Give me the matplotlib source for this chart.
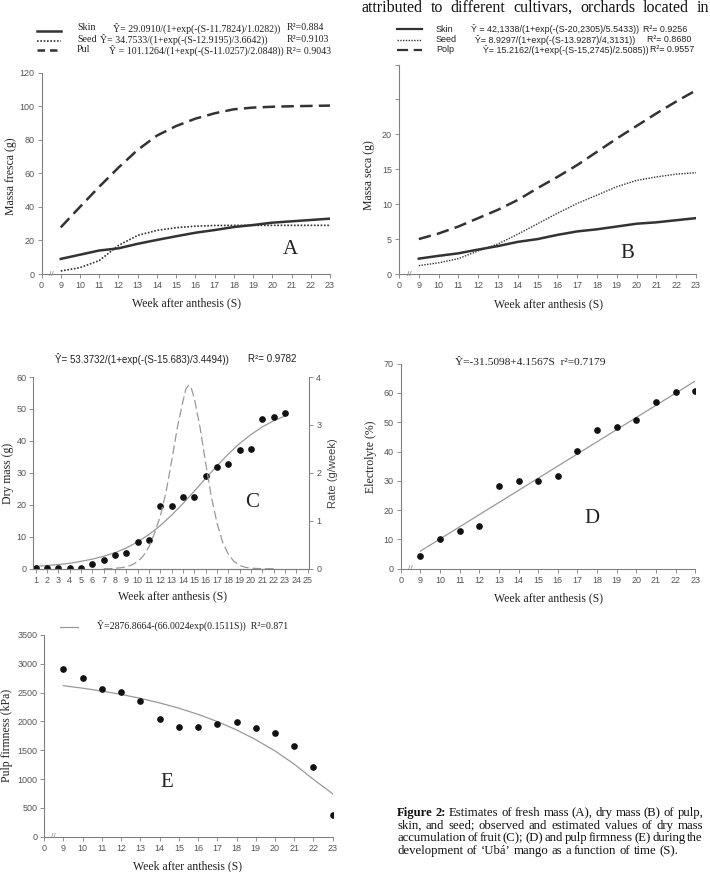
import numpy as np
import matplotlib.pyplot as plt
from matplotlib.lines import Line2D
import matplotlib.transforms as mtransforms

SERIF = ['Liberation Serif', 'DejaVu Serif']
SANS = ['Liberation Sans', 'DejaVu Sans']

# ---- data ----
weeks = np.arange(9, 24)
week_ticks = np.arange(8, 24)
week_labels = ['0'] + [str(w) for w in range(9, 24)]

# A: fresh mass (g)
a_skin = [9.0, 11.5, 14.0, 15.3, 18.0, 20.3, 22.5, 24.6, 26.2, 28.0, 29.2, 30.6, 31.4, 32.2, 33.0]
a_seed = [1.8, 3.8, 8.0, 17.0, 23.0, 26.0, 27.6, 28.5, 28.9, 29.0, 29.0, 29.0, 29.0, 29.0, 29.0]
a_pul = [27.8, 40.0, 52.0, 63.4, 74.0, 82.5, 88.2, 92.6, 95.8, 98.2, 99.2, 99.7, 100.0, 100.2, 100.4]

# B: dry mass (g)
b_skin = [2.2, 2.6, 2.96, 3.5, 4.0, 4.6, 5.0, 5.6, 6.1, 6.4, 6.8, 7.2, 7.4, 7.7, 8.0]
b_seed = [1.2, 1.6, 2.2, 3.3, 4.3, 5.7, 7.2, 8.7, 10.1, 11.3, 12.5, 13.4, 13.9, 14.3, 14.5]
b_polp = [5.0, 5.8, 6.8, 8.0, 9.2, 10.6, 12.3, 13.9, 15.6, 17.5, 19.4, 21.2, 23.0, 24.7, 26.3]

# C: dry mass accumulation of fruit
c_weeks = np.arange(1, 24)
c_obs = [0.1, 0.1, 0.1, 0.2, 0.3, 1.4, 2.6, 4.3, 4.8, 8.5, 9.0, 19.6, 19.6, 22.4, 22.4,
         29.0, 31.9, 32.7, 37.0, 37.6, 46.9, 47.6, 48.6]
c_fit = [0.75, 1.0, 1.3, 1.7, 2.3, 3.0, 3.9, 5.0, 6.5, 8.4, 10.7, 13.5, 16.8, 20.4, 24.3,
         28.3, 32.2, 35.9, 39.2, 42.0, 44.4, 46.3, 47.8]
c_rate_weeks = [7, 7.5, 8, 8.5, 9, 9.5, 10, 10.5, 11, 11.5, 12, 12.5, 13, 13.5, 14, 14.25,
                14.5, 14.75, 15, 15.5, 16, 16.5, 17, 17.5, 18, 18.5, 19, 19.5, 20, 21, 22]
c_rate = [0.0, 0.0, 0.01, 0.02, 0.04, 0.08, 0.15, 0.27, 0.46, 0.75, 1.1, 1.6, 2.25, 2.95, 3.5,
          3.75, 3.83, 3.75, 3.55, 2.95, 2.2, 1.5, 0.95, 0.55, 0.3, 0.15, 0.07, 0.03, 0.01, 0.0, 0.0]

# D: electrolyte leakage (%)
d_obs = [4.3, 10.1, 12.9, 14.6, 28.2, 29.8, 29.8, 31.5, 40.2, 47.5, 48.5, 50.9, 57.0, 60.4, 60.7]
d_fit_weeks = [9, 23]
d_fit = [6.0, 64.1]

# E: pulp firmness (kPa)
e_obs = [2904, 2748, 2563, 2511, 2360, 2036, 1909, 1909, 1955, 1984, 1880, 1805, 1574, 1209, 376]
e_fit = [2620, 2577, 2527, 2469, 2401, 2322, 2230, 2123, 1998, 1853, 1684, 1488, 1259, 994, 745]

W, H = 710, 872
fig = plt.figure(figsize=(W / 100, H / 100), dpi=100)


def box(l, t, r, b):
  return [l / W, 1 - b / H, (r - l) / W, (b - t) / H]


def ftext(x, y, s, **kw):
  kw.setdefault('va', 'center')
  kw.setdefault('family', SERIF)
  kw.setdefault('color', '#222222')
  return fig.text(x / W, 1 - y / H, s, **kw)


def style(ax):
  for side in ['top', 'right']:
    ax.spines[side].set_visible(False)
  for side in ['left', 'bottom', 'right']:
    ax.spines[side].set_color('#808080')
    ax.spines[side].set_linewidth(0.8)
  ax.tick_params(colors='#808080', labelcolor='#555555', labelsize=6.5,
                 length=3, width=0.6, pad=2)
  for lab in ax.get_xticklabels() + ax.get_yticklabels():
    lab.set_family(SANS)


def set_labels(ax, box_px, xlab, xl_px, ylab, yl_px):
  # xl_px / yl_px are the label centres in picture pixels
  l, t, r, b = box_px
  ax.set_xlabel(xlab, family=SERIF, fontsize=8.5, color='#222222')
  ax.set_ylabel(ylab, family=SERIF, fontsize=8.5, color='#222222')
  ax.xaxis.set_label_coords((xl_px[0] - l) / (r - l), (b - (xl_px[1] - 6)) / (b - t))
  ax.yaxis.set_label_coords((yl_px[0] + 5 - l) / (r - l), (b - yl_px[1]) / (b - t))


def week_axis(ax):
  ax.set_xlim(8, 23)
  ax.set_xticks(week_ticks)
  ax.set_xticklabels(week_labels)
  trans = mtransforms.blended_transform_factory(ax.transData, ax.transAxes)
  ax.text(8.5, 0, '//', transform=trans, ha='center', va='center',
          fontsize=6, color='#808080', family=SANS, clip_on=False)


def legend_line(x0, x1, y, **kw):
  fig.add_artist(Line2D([x0 / W, x1 / W], [1 - y / H, 1 - y / H], color='#333333', **kw))


dash = (0, (5, 2.5))
dot = (0, (1, 1))

# ---- A ----
pa = (41.5, 72.7, 330, 274)
ax = fig.add_axes(box(*pa))
ax.plot(weeks, a_skin, color='#333333', lw=1.8)
ax.plot(weeks, a_seed, color='#333333', lw=1.2, linestyle=dot)
ax.plot(weeks, a_pul, color='#333333', lw=1.8, linestyle=dash)
week_axis(ax)
ax.set_ylim(0, 120)
ax.set_yticks(range(0, 121, 20))
style(ax)
set_labels(ax, pa, 'Week after anthesis (S)', (186, 303), 'Massa fresca (g)', (12, 176))
ftext(290, 250, 'A', fontsize=15, ha='center')

legend_line(37, 61, 31.5, lw=1.8)
legend_line(37, 61, 41, lw=1.2, linestyle=dot)
legend_line(37, 61, 50.5, lw=1.8, linestyle=(0, (3, 2)))
for y, lab in [(28, 'Skin'), (39, 'Seed'), (50, 'Pul')]:
  ftext(77, y, lab, fontsize=7.2)
ftext(113, 28, 'Ŷ= 29.0910/(1+exp(-(S-11.7824)/1.0282))', fontsize=7.1)
ftext(287, 28, 'R²=0.884', fontsize=7.1)
ftext(100, 39, 'Ŷ= 34.7533/(1+exp(-(S-12.9195)/3.6642))', fontsize=7.1)
ftext(287, 39, 'R²=0.9103', fontsize=7.1)
ftext(109, 50, 'Ŷ = 101.1264/(1+exp(-(S-11.0257)/2.0848)) R²= 0.9043', fontsize=7.1)

# ---- B ----
pb = (399, 64.5, 696, 274)
ax = fig.add_axes(box(*pb))
ax.plot(weeks, b_skin, color='#333333', lw=1.8)
ax.plot(weeks, b_seed, color='#333333', lw=1.0, linestyle=dot)
ax.plot(weeks, b_polp, color='#333333', lw=1.8, linestyle=dash)
week_axis(ax)
ax.set_ylim(0, 30)
ax.set_yticks(range(0, 31, 5))
ax.set_yticklabels(['0', '5', '10', '15', '20', '', ''])
style(ax)
set_labels(ax, pb, 'Week after anthesis (S)', (548, 304), 'Massa seca (g)', (370, 175))
ftext(627, 254, 'B', fontsize=15, ha='center')

legend_line(397, 422, 29, lw=1.6)
legend_line(397, 422, 40, lw=1.0, linestyle=dot)
legend_line(397, 422, 50, lw=1.6, linestyle=dash)
for y, lab in [(29, 'Skin'), (40, 'Seed'), (50, 'Polp')]:
  ftext(436, y, lab, fontsize=6.5, family=SANS)
ftext(471, 29, 'Ŷ = 42,1338/(1+exp(-(S-20,2305)/5.5433))', fontsize=6.4, family=SANS)
ftext(643, 29, 'R²= 0.9256', fontsize=6.4, family=SANS)
ftext(475, 40, 'Ŷ= 8.9297/(1+exp(-(S-13.9287)/4,3131))', fontsize=6.4, family=SANS)
ftext(647, 40, 'R²= 0.8680', fontsize=6.4, family=SANS)
ftext(483, 50, 'Ŷ= 15.2162/(1+exp(-(S-15,2745)/2.5085))', fontsize=6.4, family=SANS)
ftext(650, 50, 'R²= 0.9557', fontsize=6.4, family=SANS)

# ---- C ----
pc = (33.3, 377, 309.3, 568.7)
ax = fig.add_axes(box(*pc))
ax.plot(c_weeks, c_fit, color='#999999', lw=0.9)
ax.plot(c_weeks, c_obs, 'o', color='#111111', markersize=3.8)
ax.set_xlim(0.79, 25.14)
ax.set_xticks(range(1, 26))
ax.set_ylim(0, 60)
ax.set_yticks(range(0, 61, 10))
style(ax)
set_labels(ax, pc, 'Week after anthesis (S)', (172, 596), 'Dry mass (g)', (9, 473))
ax2 = ax.twinx()
ax2.plot(c_rate_weeks, c_rate, color='#999999', lw=0.9, linestyle=(0, (7, 3)))
ax2.set_ylim(0, 4)
ax2.set_yticks(range(0, 5))
style(ax2)
ax2.spines['right'].set_visible(True)
ax2.spines['left'].set_visible(False)
ax2.set_ylabel('Rate (g/week)', family=SANS, fontsize=8, color='#444444')
ax2.yaxis.set_label_coords((328 - pc[0]) / (pc[2] - pc[0]), (pc[3] - 473) / (pc[3] - pc[1]))
ftext(55, 359, 'Ŷ= 53.3732/(1+exp(-(S-15.683)/3.4494))', fontsize=7, family=SANS)
ftext(248, 359, 'R²= 0.9782', fontsize=7, family=SANS)
ftext(252, 502, 'C', fontsize=15, ha='center')

# ---- D ----
pd_ = (400.7, 363.7, 695.3, 568.7)
ax = fig.add_axes(box(*pd_))
ax.plot(d_fit_weeks, d_fit, color='#999999', lw=0.9)
ax.plot(weeks, d_obs, 'o', color='#111111', markersize=3.8)
week_axis(ax)
ax.set_ylim(0, 70)
ax.set_yticks(range(0, 71, 10))
style(ax)
set_labels(ax, pd_, 'Week after anthesis (S)', (548, 598), 'Electrolyte (%)', (372, 457))
ftext(455, 362.7, 'Ŷ=-31.5098+4.1567S  r²=0.7179', fontsize=8.2)
ftext(592, 518, 'D', fontsize=15, ha='center')

# ---- E ----
pe = (44.2, 635, 332.7, 836.7)
ax = fig.add_axes(box(*pe))
ax.plot(weeks, e_fit, color='#999999', lw=0.9)
ax.plot(weeks, e_obs, 'o', color='#111111', markersize=3.8)
week_axis(ax)
ax.set_ylim(0, 3500)
ax.set_yticks(range(0, 3501, 500))
style(ax)
set_labels(ax, pe, 'Week after anthesis (S)', (187, 866), 'Pulp firmness (kPa)', (8, 735))
fig.add_artist(Line2D([60 / W, 78 / W], [1 - 627 / H, 1 - 627 / H], color='#999999', lw=0.9))
ftext(97, 625, 'Ŷ=2876.8664-(66.0024exp(0.1511S))  R²=0.871', fontsize=7.1)
ftext(167, 782, 'E', fontsize=15, ha='center')


# ---- running text (justified) ----
def justify(words, x0, x1, y, size, bold_n=0, last=False):
  r = fig.canvas.get_renderer()
  ts = [ftext(0, y, w, fontsize=size, color='#111111', va='baseline',
              fontweight='bold' if i < bold_n else 'normal') for i, w in enumerate(words)]
  widths = [t.get_window_extent(r).width for t in ts]
  m2 = ftext(0, y, 'a a', fontsize=size)
  m1 = ftext(0, y, 'a', fontsize=size)
  space = m2.get_window_extent(r).width - 2 * m1.get_window_extent(r).width
  m2.remove()
  m1.remove()
  gap = space if last else (x1 - x0 - sum(widths)) / (len(ts) - 1)
  x = x0
  for t, w in zip(ts, widths):
    t.set_x(x / W)
    x += w + gap


justify('attributed to different cultivars, orchards located in'.split(), 362, 709, 12, 11.5)
cap = ['Figure 2: Estimates of fresh mass (A), dry mass (B) of pulp,',
       'skin, and seed; observed and estimated values of dry mass',
       'accumulation of fruit (C); (D) and pulp firmness (E) during the',
       'development of ‘Ubá’ mango as a function of time (S).']
for i, line in enumerate(cap):
  justify(line.split(), 397, 703, 816 + i * 12.7, 9.2, bold_n=2 if i == 0 else 0, last=(i == 3))

plt.savefig('out.png', dpi=100)
